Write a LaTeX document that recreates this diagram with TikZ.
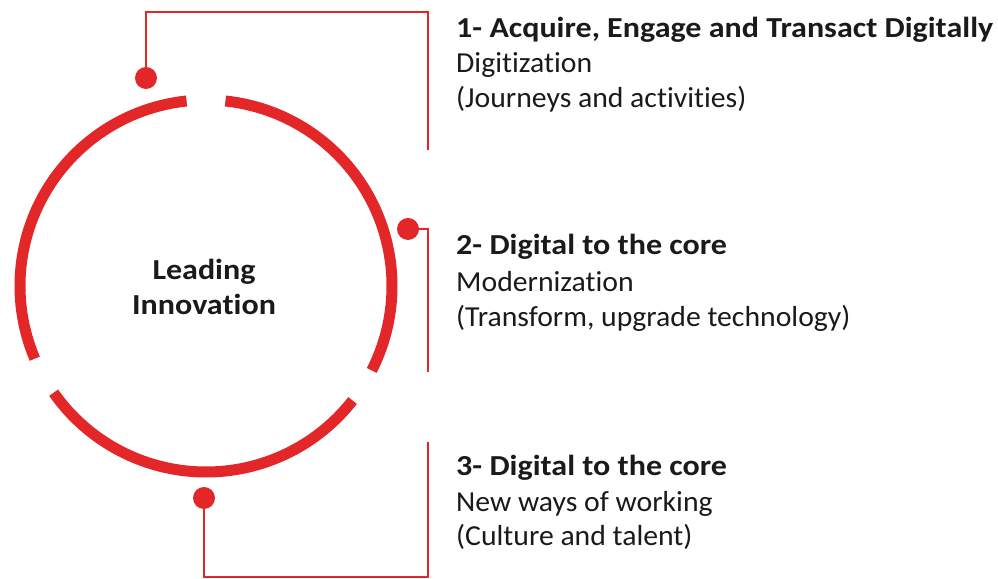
\documentclass[tikz,border=0pt]{standalone}
\usepackage{fontspec}
\setmainfont{Carlito}[Ligatures=NoCommon,FakeStretch=1.025]
\newfontfamily\hdfont{Carlito}[Ligatures=NoCommon,FakeStretch=1.105]
\definecolor{sred}{RGB}{227,38,40}
\definecolor{ink}{RGB}{26,26,26}
\begin{document}
\begin{tikzpicture}[x=1pt,y=1pt,
  ring/.style={draw=sred,line width=11pt},
  link/.style={draw=sred,line width=1.6pt},
  dot/.style={circle,fill=sred,minimum size=22pt,inner sep=0pt},
  txt/.style={anchor=base west,inner sep=0pt,text=ink,font=\fontsize{29}{35}\selectfont},
  hd/.style={anchor=base west,inner sep=0pt,text=ink,font=\hdfont\bfseries\fontsize{29}{35}\selectfont},
  ctr/.style={anchor=base,inner sep=0pt,text=ink,font=\hdfont\bfseries\fontsize{29}{35}\selectfont}]
\useasboundingbox (0,0) rectangle (998,578);
\coordinate (C) at (206,292);
% ring segments
\draw[ring] ([shift={(84:186pt)}]C) arc[start angle=84,end angle=-27,radius=186pt];
\draw[ring] ([shift={(-38:186pt)}]C) arc[start angle=-38,end angle=-145,radius=186pt];
\draw[ring] ([shift={(203:186pt)}]C) arc[start angle=203,end angle=96,radius=186pt];
% centre text
\node[ctr] (c1) at (204,298) {Leading};
\node[ctr] (c2) at (204,263) {Innovation};
% dots
\node[dot] (d1) at (146,500) {};
\node[dot] (d2) at (408,349) {};
\node[dot] (d3) at (204,80) {};
% connectors
\coordinate (t1) at (428,566);
\coordinate (e1) at (428,428);
\coordinate (e2) at (428,206);
\coordinate (b3) at (428,1);
\coordinate (e3) at (428,136);
\draw[link] (d1) |- (t1) -- (e1);
\draw[link] (d2) -| (e2);
\draw[link] (d3) |- (b3) -- (e3);
% text blocks
\node[hd]  (h1) at (456,540.5) {1- Acquire, Engage and Transact Digitally};
\node[txt] (s1) at (456,505) {Digitization};
\node[txt] (p1) at (456,470) {(Journeys and activities)};
\node[hd]  (h2) at (456,323) {2- Digital to the core};
\node[txt] (s2) at (456,286.3) {Modernization};
\node[txt] (p2) at (456,251) {(Transform, upgrade technology)};
\node[hd]  (h3) at (456,102) {3- Digital to the core};
\node[txt] (s3) at (456,66.3) {New ways of working};
\node[txt] (p3) at (456,32) {(Culture and talent)};
\end{tikzpicture}
\end{document}
